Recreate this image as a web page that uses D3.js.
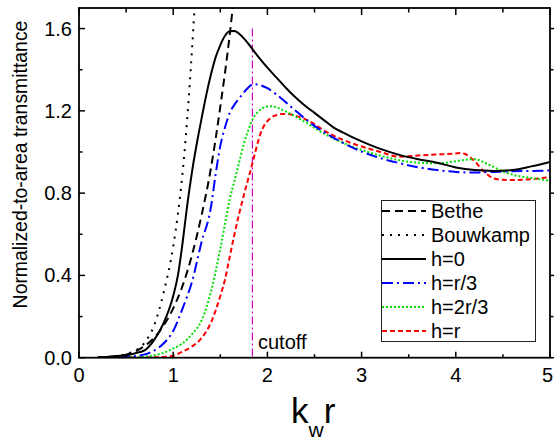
<!DOCTYPE html>
<html>
<head>
<meta charset="utf-8">
<script src="https://cdn.jsdelivr.net/npm/d3@7"></script>
<style>
  html, body { margin: 0; padding: 0; background: #fff; }
  svg { display: block; }
  text { font-family: "Liberation Sans", Arial, sans-serif; fill: #000; }
</style>
</head>
<body>
<svg id="chart" width="554" height="443"></svg>
<script>
// ---- data ----
const xTicks = [0, 1, 2, 3, 4, 5];
const yTicks = [0.0, 0.4, 0.8, 1.2, 1.6];
const xTickLabels = ["0", "1", "2", "3", "4", "5"];
const yTickLabels = ["0.0", "0.4", "0.8", "1.2", "1.6"];

const betheX = [0.2, 0.3, 0.4, 0.5, 0.6, 0.7, 0.8, 0.9, 1.0, 1.1, 1.2, 1.3, 1.4, 1.5, 1.6, 1.65, 1.7];
const betheY = [0.0004, 0.002, 0.006, 0.015, 0.031, 0.058, 0.098, 0.158, 0.24, 0.35, 0.50, 0.69, 0.92, 1.22, 1.57, 1.78, 2.0];

const bouwX = [0.2, 0.3, 0.4, 0.5, 0.6, 0.7, 0.8, 0.9, 1.0, 1.05, 1.1, 1.15, 1.2, 1.25, 1.3];
const bouwY = [0.0005, 0.002, 0.007, 0.018, 0.035, 0.075, 0.16, 0.32, 0.54, 0.70, 0.90, 1.17, 1.50, 1.90, 2.4];

const h0X = [0.2, 0.3, 0.4, 0.5, 0.6, 0.7, 0.8, 0.9, 1.0, 1.05, 1.1, 1.15, 1.2, 1.25, 1.3, 1.35, 1.4, 1.45, 1.5, 1.55, 1.6, 1.65, 1.7, 1.8, 1.9, 2.0, 2.1, 2.2, 2.3, 2.4, 2.5, 2.6, 2.7, 2.8, 2.9, 3.0, 3.2, 3.4, 3.6, 3.8, 4.0, 4.2, 4.4, 4.6, 4.8, 5.0];
const h0Y = [0.002, 0.004, 0.008, 0.012, 0.022, 0.037, 0.088, 0.17, 0.30, 0.40, 0.56, 0.745, 0.905, 1.04, 1.16, 1.275, 1.375, 1.46, 1.52, 1.565, 1.587, 1.588, 1.575, 1.525, 1.465, 1.41, 1.36, 1.31, 1.265, 1.225, 1.19, 1.155, 1.12, 1.095, 1.072, 1.052, 1.015, 0.986, 0.965, 0.948, 0.925, 0.912, 0.908, 0.912, 0.93, 0.952];

const h1X = [0.2, 0.4, 0.5, 0.6, 0.7, 0.8, 0.9, 1.0, 1.1, 1.2, 1.3, 1.4, 1.45, 1.5, 1.55, 1.6, 1.65, 1.7, 1.75, 1.8, 1.85, 1.9, 2.0, 2.1, 2.2, 2.3, 2.4, 2.5, 2.6, 2.7, 2.8, 2.9, 3.0, 3.2, 3.4, 3.6, 3.8, 4.0, 4.2, 4.4, 4.6, 4.8, 5.0];
const h1Y = [0.0005, 0.002, 0.004, 0.008, 0.016, 0.035, 0.07, 0.13, 0.24, 0.37, 0.56, 0.73, 0.89, 1.03, 1.12, 1.19, 1.23, 1.26, 1.29, 1.315, 1.33, 1.328, 1.31, 1.278, 1.24, 1.2, 1.162, 1.127, 1.097, 1.07, 1.045, 1.022, 1.002, 0.97, 0.946, 0.926, 0.912, 0.903, 0.9, 0.903, 0.906, 0.908, 0.91];

const h2X = [0.2, 0.4, 0.6, 0.8, 0.9, 1.0, 1.1, 1.2, 1.3, 1.4, 1.5, 1.55, 1.6, 1.65, 1.7, 1.75, 1.8, 1.85, 1.9, 1.95, 2.0, 2.05, 2.1, 2.2, 2.3, 2.4, 2.5, 2.6, 2.7, 2.8, 2.9, 3.0, 3.2, 3.4, 3.6, 3.8, 4.0, 4.1, 4.2, 4.3, 4.4, 4.5, 4.6, 4.8, 5.0];
const h2Y = [0.0003, 0.001, 0.003, 0.012, 0.024, 0.045, 0.07, 0.115, 0.18, 0.32, 0.53, 0.65, 0.77, 0.86, 0.95, 1.04, 1.11, 1.165, 1.195, 1.213, 1.221, 1.222, 1.216, 1.196, 1.172, 1.146, 1.117, 1.09, 1.066, 1.045, 1.026, 1.01, 0.982, 0.96, 0.948, 0.945, 0.955, 0.962, 0.965, 0.95, 0.928, 0.905, 0.89, 0.874, 0.86];

const h3X = [0.2, 0.5, 0.8, 0.9, 1.0, 1.1, 1.2, 1.3, 1.4, 1.5, 1.55, 1.6, 1.65, 1.7, 1.75, 1.8, 1.85, 1.9, 1.95, 2.0, 2.05, 2.1, 2.15, 2.2, 2.3, 2.4, 2.5, 2.6, 2.7, 2.8, 2.9, 3.0, 3.2, 3.4, 3.6, 3.8, 4.0, 4.05, 4.1, 4.2, 4.3, 4.4, 4.5, 4.6, 4.8, 5.0];
const h3Y = [0.0002, 0.0008, 0.002, 0.004, 0.01, 0.03, 0.055, 0.095, 0.17, 0.30, 0.38, 0.49, 0.60, 0.70, 0.79, 0.875, 0.96, 1.05, 1.115, 1.15, 1.17, 1.18, 1.185, 1.185, 1.176, 1.16, 1.135, 1.105, 1.08, 1.06, 1.042, 1.027, 1.0, 0.977, 0.983, 0.988, 0.993, 0.995, 0.99, 0.955, 0.905, 0.872, 0.865, 0.864, 0.868, 0.878];

const cutoffX = 1.841;
const cutoffTop = 1.6;

const seriesNames = ["Bethe", "Bouwkamp", "h=0", "h=r/3", "h=2r/3", "h=r"];

// ---- layout ----
const svg = d3.select("#chart");
const x = d3.scaleLinear().domain([0, 5]).range([79, 550]);
const y = d3.scaleLinear().domain([0, 1.7]).range([357.7, 8]);

const styles = [
  { color: "#000", dash: "8,5", width: 2 },
  { color: "#000", dash: "2,6", width: 2 },
  { color: "#000", dash: null, width: 2 },
  { color: "#0000ff", dash: "11,4,2,4", width: 2 },
  { color: "#00e000", dash: "2,2", width: 2 },
  { color: "#ff0000", dash: "5,3", width: 2 }
];
const datasets = [[betheX, betheY], [bouwX, bouwY], [h0X, h0Y], [h1X, h1Y], [h2X, h2Y], [h3X, h3Y]];

svg.append("clipPath").attr("id", "clip")
  .append("rect").attr("x", 79).attr("y", 8).attr("width", 471).attr("height", 349.7);

const line = d3.line().x(d => x(d[0])).y(d => y(d[1])).curve(d3.curveMonotoneX);

const g = svg.append("g").attr("clip-path", "url(#clip)");

// cutoff line
g.append("line")
  .attr("x1", x(cutoffX)).attr("x2", x(cutoffX))
  .attr("y1", y(cutoffTop)).attr("y2", y(0))
  .attr("stroke", "#cc00cc").attr("stroke-width", 1.2)
  .attr("stroke-dasharray", "8,3,2,3");

const order = [5, 4, 3, 0, 1, 2];
order.forEach(i => {
  const [xs, ys] = datasets[i];
  const pts = xs.map((v, k) => [v, ys[k]]);
  const p = g.append("path").datum(pts)
    .attr("d", line)
    .attr("fill", "none")
    .attr("stroke", styles[i].color)
    .attr("stroke-width", styles[i].width);
  if (styles[i].dash) p.attr("stroke-dasharray", styles[i].dash);
});

// ---- axes ----
const xMinor = d3.range(0, 5.01, 0.5);
const yMinor = d3.range(0, 1.701, 0.2);
const axG = svg.append("g");
xMinor.forEach(v => {
  const major = Math.abs(v - Math.round(v)) < 1e-6;
  const len = major ? 6 : 3.5;
  axG.append("line").attr("x1", x(v)).attr("x2", x(v))
    .attr("y1", y(0)).attr("y2", y(0) - len).attr("stroke", "#000").attr("stroke-width", 1.5);
  axG.append("line").attr("x1", x(v)).attr("x2", x(v))
    .attr("y1", y(1.7)).attr("y2", y(1.7) + (major ? 7 : 4.5)).attr("stroke", "#000").attr("stroke-width", 1.5);
});
yMinor.forEach((v, k) => {
  const major = k % 2 === 0;
  const len = major ? 6 : 3.5;
  axG.append("line").attr("x1", x(0)).attr("x2", x(0) + len)
    .attr("y1", y(v)).attr("y2", y(v)).attr("stroke", "#000").attr("stroke-width", 1.5);
  axG.append("line").attr("x1", x(5)).attr("x2", x(5) + (major ? 5 : 3.5))
    .attr("y1", y(v)).attr("y2", y(v)).attr("stroke", "#000").attr("stroke-width", 1.5);
});
axG.append("rect").attr("x", x(0)).attr("y", y(1.7))
  .attr("width", x(5) - x(0)).attr("height", y(0) - y(1.7))
  .attr("fill", "none").attr("stroke", "#000").attr("stroke-width", 1.8);

// tick labels
xTicks.forEach((v, k) => {
  const last = k === xTicks.length - 1;
  svg.append("text").attr("x", last ? 553 : x(v)).attr("y", 382)
    .attr("text-anchor", last ? "end" : "middle").attr("font-size", 20).text(xTickLabels[k]);
});
yTicks.forEach((v, k) => {
  svg.append("text").attr("x", 72).attr("y", y(v)).attr("dy", "0.35em")
    .attr("text-anchor", "end").attr("font-size", 20).text(yTickLabels[k]);
});

// axis titles
svg.append("text")
  .attr("transform", "translate(27,164.5) rotate(-90)")
  .attr("text-anchor", "middle").attr("font-size", 19.4)
  .text("Normalized-to-area transmittance");

const xt = svg.append("text").attr("x", 291).attr("y", 423).attr("font-size", 35);
xt.append("tspan").text("k");
xt.append("tspan").attr("font-size", 21).attr("dy", 14).text("w");
xt.append("tspan").attr("dy", -14).text("r");

svg.append("text").attr("x", 258).attr("y", 349).attr("font-size", 20).text("cutoff");

// ---- legend ----
const lg = svg.append("g");
lg.append("rect").attr("x", 381.5).attr("y", 200.5).attr("width", 154).attr("height", 141)
  .attr("fill", "#fff").attr("stroke", "#222").attr("stroke-width", 1);
seriesNames.forEach((name, i) => {
  const yy = 211 + i * 24;
  const l = lg.append("line").attr("x1", 382).attr("x2", 426).attr("y1", yy).attr("y2", yy)
    .attr("stroke", styles[i].color).attr("stroke-width", styles[i].width);
  if (styles[i].dash) l.attr("stroke-dasharray", styles[i].dash);
  lg.append("text").attr("x", 431).attr("y", yy).attr("dy", "0.36em")
    .attr("font-size", 20).text(name);
});
</script>
</body>
</html>
